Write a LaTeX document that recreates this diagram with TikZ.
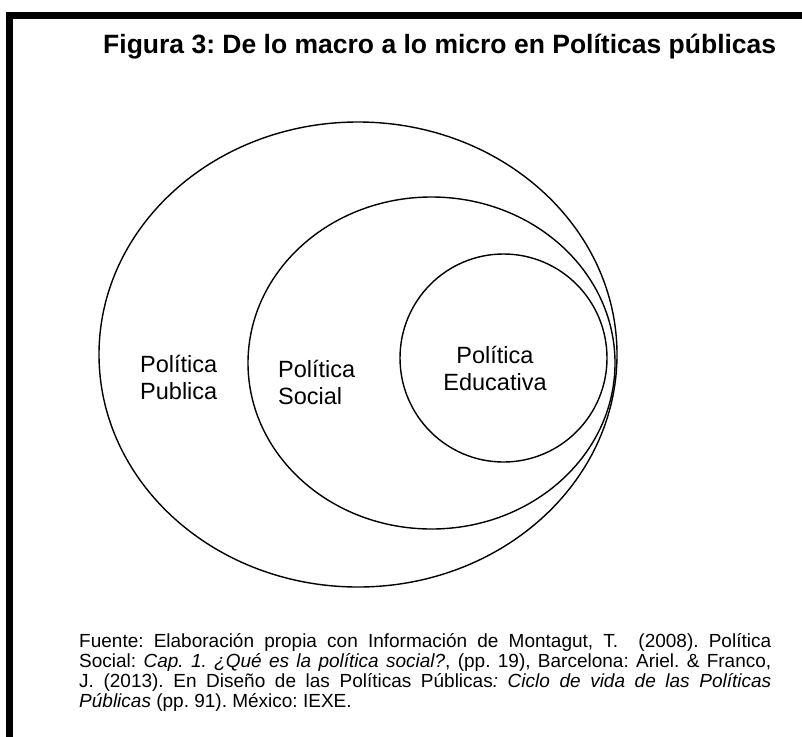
\documentclass[tikz,border=0pt]{standalone}
\usepackage{fontspec}
\setmainfont{Liberation Sans}
\usetikzlibrary{shapes.geometric}
\frenchspacing

\begin{document}
\begin{tikzpicture}[x=1pt, y=-1pt,
    conjunto/.style={draw, ellipse, line width=1.4pt, inner sep=0pt},
    etiqueta/.style={inner sep=0pt, font=\fontsize{23.5}{27.5}\selectfont}]
  \useasboundingbox (0,0) rectangle (802,736);
  \clip (0,0) rectangle (802,736);
  % Marco
  \draw[line width=7pt] (9.5,15.5) rectangle (840,780);
  % Titulo
  \node[anchor=base west, inner sep=0pt, font=\fontsize{26.5}{30}\selectfont\bfseries] (titulo) at (103,53)
    {Figura 3: De lo macro a lo micro en Políticas públicas};
  % Conjuntos
  \node[conjunto, minimum width=518pt, minimum height=465pt] (publica) at (358,354.5) {};
  \node[conjunto, minimum width=367pt, minimum height=332pt] (social) at (431.5,363) {};
  \node[conjunto, minimum width=207pt, minimum height=208pt] (educativa) at (503.5,358) {};
  % Etiquetas
  \node[etiqueta, text width=100pt, align=left, anchor=base west] (lpublica) at (140,372) {Política\\Publica};
  \node[etiqueta, text width=100pt, align=left, anchor=base west] (lsocial) at (278,377) {Política\\Social};
  \node[etiqueta, text width=130pt, align=center, anchor=base] (leducativa) at (495,363) {Política\\Educativa};
  % Fuente
  \node[anchor=base west, inner sep=0pt, text width=692pt, align=justify,
        font=\fontsize{19}{20.3}\selectfont\frenchspacing] (fuente) at (79,647)
    {Fuente: Elaboración propia con Información de Montagut, T.\ \ (2008). Política\linebreak
     Social: \textit{Cap. 1. ¿Qué es la política social?}, (pp. 19), Barcelona: Ariel. \& Franco,\linebreak
     J. (2013). En Diseño de las Políticas Públicas\textit{: Ciclo de vida de las Políticas}\linebreak
     \textit{Públicas} (pp. 91). México: IEXE.};
\end{tikzpicture}
\end{document}
